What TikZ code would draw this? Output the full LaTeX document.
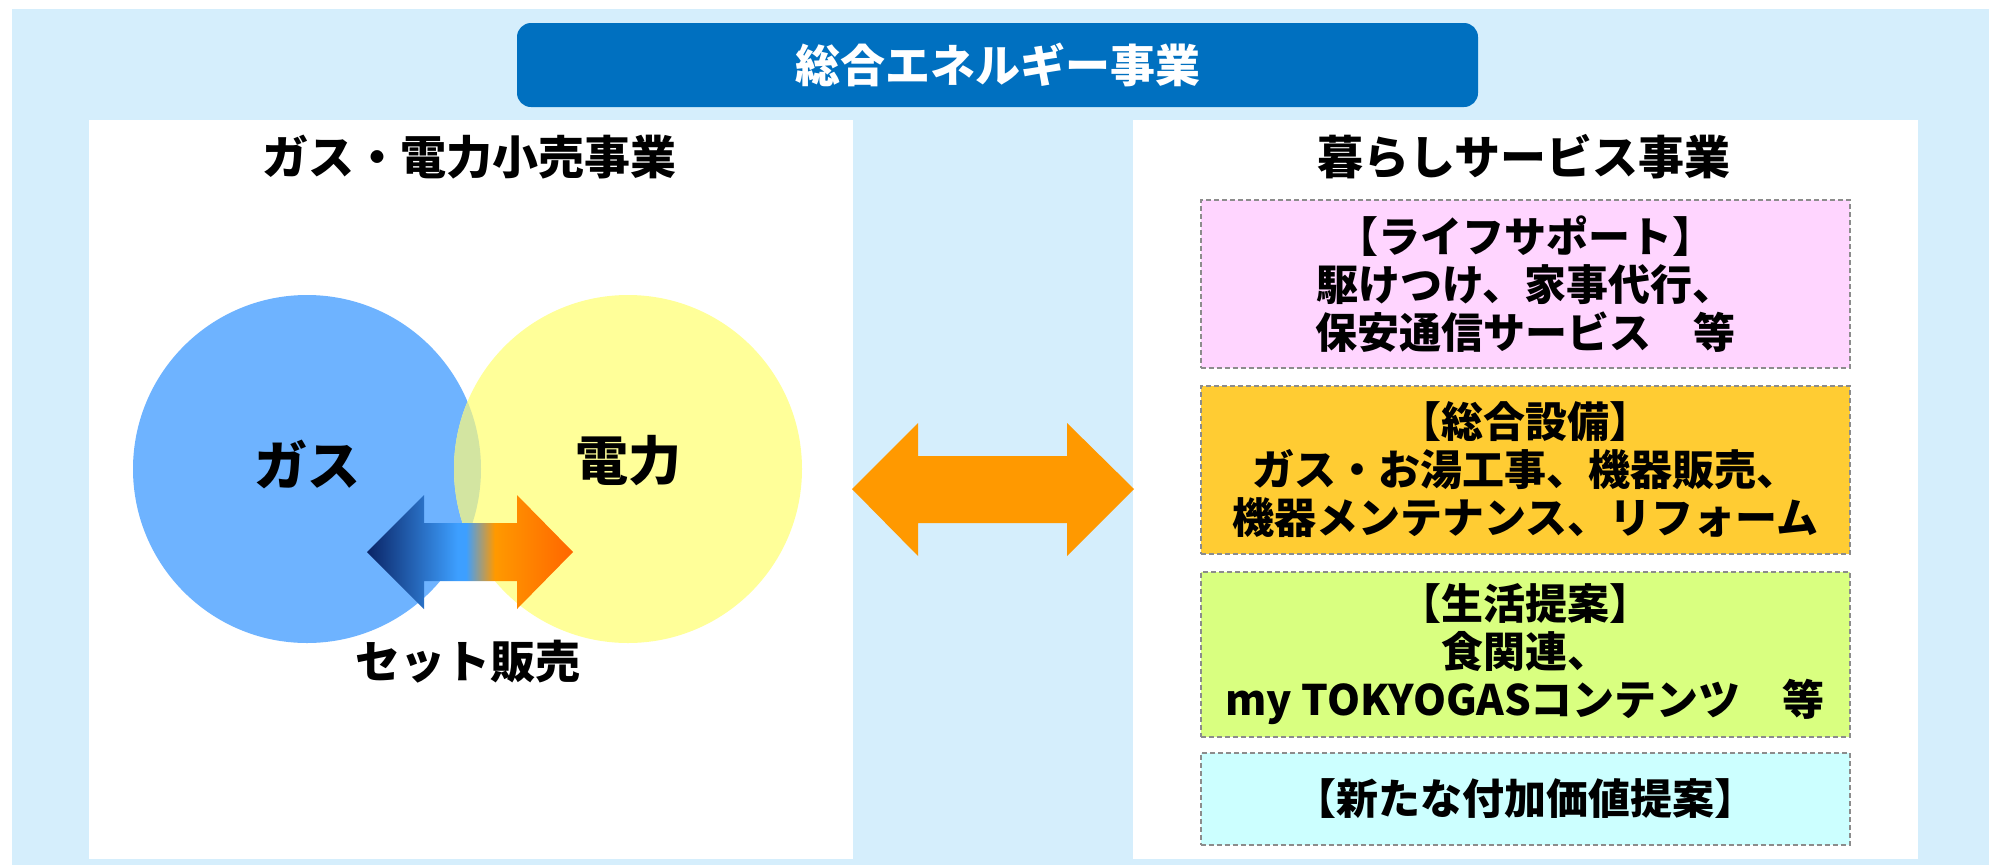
\documentclass[tikz,border=0pt]{standalone}
\usepackage{fontspec}
\newfontfamily\jp{Noto Sans CJK JP}
\definecolor{bgblue}{HTML}{D5EEFC}
\definecolor{bannerblue}{HTML}{0070C0}
\definecolor{gasblue}{HTML}{6EB3FF}
\definecolor{elecyellow}{HTML}{FFFF99}
\definecolor{lenscol}{HTML}{D3E5A1}
\definecolor{bigorange}{HTML}{FF9900}
\definecolor{pinkbox}{HTML}{FFD5FF}
\definecolor{orangebox}{HTML}{FFCC33}
\definecolor{greenbox}{HTML}{D9FF80}
\definecolor{cyanbox}{HTML}{CCFFFF}
\definecolor{dashgray}{HTML}{8C8C8C}
\definecolor{arrnavy}{HTML}{0A2466}
\definecolor{arrblue}{HTML}{3D9FFF}
\definecolor{arrorange}{HTML}{FF9900}
\definecolor{arrred}{HTML}{FF6600}
\pgfdeclarehorizontalshading{setarrow}{100bp}{color(0bp)=(arrnavy); color(25bp)=(arrnavy); color(47bp)=(arrblue); color(49bp)=(arrblue); color(56bp)=(arrorange); color(75bp)=(arrred); color(100bp)=(arrred)}
\tikzset{
  panel/.style={fill=white, inner sep=0pt, outer sep=0pt},
  banner/.style={fill=bannerblue, rounded corners=14pt, inner sep=0pt, text=white,
    font={\jp\bfseries\fontsize{45}{54}\selectfont}},
  paneltitle/.style={font={\jp\bfseries\fontsize{46}{54}\selectfont}},
  bigtxt/.style={font={\jp\bfseries\fontsize{53}{62}\selectfont}},
  settxt/.style={font={\jp\bfseries\fontsize{45}{54}\selectfont}},
  svcbox/.style={draw=dashgray, line width=2pt, dash pattern=on 5pt off 3pt,
    inner sep=0pt, minimum width=649pt, align=center,
    font={\jp\bfseries\fontsize{42}{48}\selectfont}},
}
\begin{document}
\begin{tikzpicture}[x=1pt,y=-1pt]
\useasboundingbox (0,0) rectangle (1989,865);
\fill[bgblue] (12,9) rectangle (1989,865);
% banner
\node[banner, minimum width=961pt, minimum height=84pt] (banner) at (997.5,65) {総合エネルギー事業};
% panels
\node[panel, minimum width=764pt, minimum height=739pt] (lpanel) at (471,489.5) {};
\node[panel, minimum width=785pt, minimum height=739pt] (rpanel) at (1525.5,489.5) {};
\node[paneltitle] (ltitle) at (469,157) {ガス・電力小売事業};
\node[paneltitle] (rtitle) at (1524,157) {暮らしサービス事業};
% circles
\node[circle, fill=gasblue, minimum size=348pt, inner sep=0pt] (gas) at (307,469) {};
\node[circle, fill=elecyellow, minimum size=348pt, inner sep=0pt] (elec) at (628,469) {};
\begin{scope}
  \clip (307,469) circle (174);
  \fill[lenscol] (628,469) circle (174);
\end{scope}
\node[bigtxt] (gaslbl) at (307,464) {ガス};
\node[bigtxt] (eleclbl) at (628,461) {電力};
% set-sale gradient arrow
\shade[shading=setarrow] (367,552) -- (424,495) -- (424,523) -- (517,523) -- (517,495) -- (573,552)
  -- (517,609) -- (517,581) -- (424,581) -- (424,609) -- cycle;
\node[settxt] (setlbl) at (468,662) {セット販売};
% big double arrow between panels
\fill[bigorange] (852,489) -- (918,423) -- (918,456) -- (1067,456) -- (1067,423) -- (1134,489)
  -- (1067,556) -- (1067,523) -- (918,523) -- (918,556) -- cycle;
% service boxes
\node[svcbox, fill=pinkbox, minimum height=168pt] (b1) at (1525,284)
  {【ライフサポート】\\駆けつけ、家事代行、\\保安通信サービス　等};
\node[svcbox, fill=orangebox, minimum height=168pt] (b2) at (1525,470)
  {【総合設備】\\ガス・お湯工事、機器販売、\\機器メンテナンス、リフォーム};
\node[svcbox, fill=greenbox, minimum height=165pt] (b3) at (1525,654.5)
  {【生活提案】\\食関連、\\my TOKYOGASコンテンツ　等};
\node[svcbox, fill=cyanbox, minimum height=92pt] (b4) at (1525,799)
  {【新たな付加価値提案】};
\end{tikzpicture}
\end{document}
